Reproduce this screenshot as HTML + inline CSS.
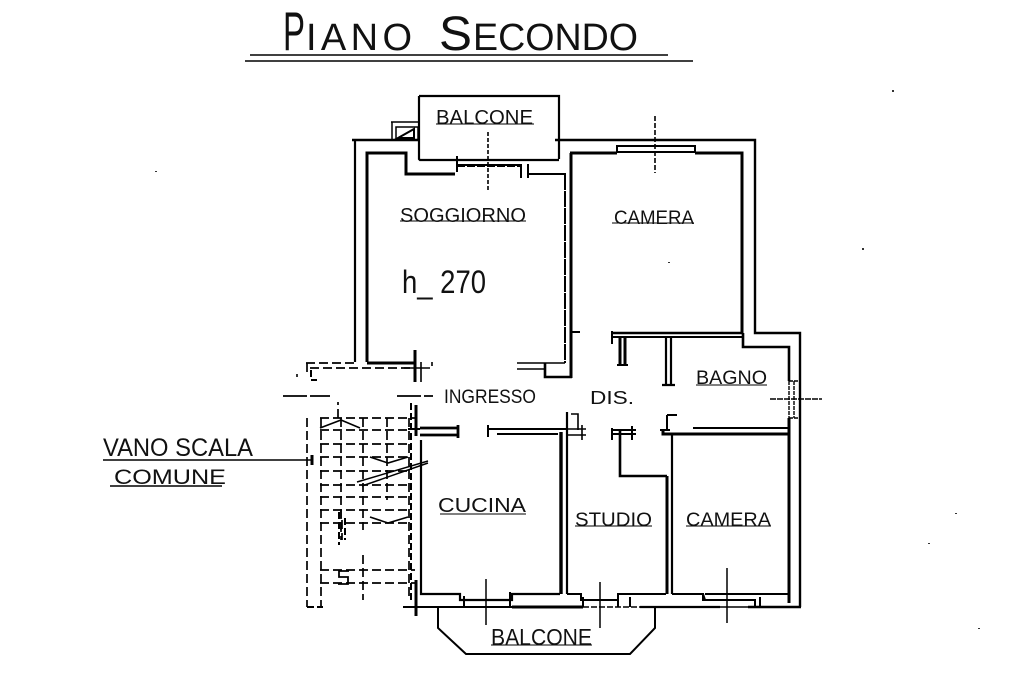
<!DOCTYPE html>
<html><head><meta charset="utf-8"><style>
html,body{margin:0;padding:0;background:#fff;width:1024px;height:683px;overflow:hidden}
svg{display:block}
text{font-family:"Liberation Sans",sans-serif;fill:#111;font-weight:normal}
</style></head><body>
<svg width="1024" height="683" viewBox="0 0 1024 683" xmlns="http://www.w3.org/2000/svg">
<rect width="1024" height="683" fill="#fff"/>
<g fill="none" stroke="#000" stroke-width="2">
<!-- title underline -->
<path d="M250 55H668M245 61H693" stroke-width="1.6"/>
<!-- top balcony -->
<path d="M419 96H559V159M419 96V159L420 160H559" stroke-width="2.2"/>
<path d="M391 122H419M392 122V140M396 127H418V140H396Z" stroke-width="1.5"/>
<path d="M398 138L414 129V138Z" stroke-width="2"/>
<path d="M352 140H419" stroke-width="2.4"/>
<path d="M355 140V362" stroke-width="2.2"/>
<path d="M367 362V153H406V174H455" stroke-width="3"/>
<path d="M457 156V172M457 165H520M521 164V178M528 164V178M527 174H566" stroke-width="2"/>
<path d="M457 166H520" stroke-dasharray="8 2"/>
<path d="M488 132V190" stroke-dasharray="4 2" stroke-width="1.6"/>
<!-- soggiorno right wall -->
<path d="M565 174V363" stroke-width="2" stroke-dasharray="16 1"/>
<path d="M571 153V378" stroke-width="3"/>
<path d="M367 363H416" stroke-width="3"/>
<path d="M415 350V382" stroke-width="3"/>
<path d="M421 362V382M432 362V366M404 368H430" stroke-width="1.6"/>
<path d="M517 363H565M517 369H545" stroke-width="1.6"/>
<path d="M545 363V377H572" stroke-width="2.6"/>
<path d="M571 332H580" stroke-width="2"/>
<!-- camera top -->
<path d="M555 140H755V333H800V607" stroke-width="2.4"/>
<path d="M570 153H617M695 153H742V333" stroke-width="3"/>
<path d="M617 153V146H695V153M617 152H695" stroke-width="2"/>
<path d="M655 116V173" stroke-dasharray="5 2" stroke-width="1.6"/>
<!-- bagno -->
<path d="M612 333H743" stroke-width="2.6"/>
<path d="M613 337H743" stroke-width="2"/>
<path d="M612 331V344" stroke-width="2"/>
<path d="M620 337V365M625 337V365" stroke-width="3"/>
<path d="M617 365H628" stroke-width="2"/>
<path d="M666 337V385M671 337V385M662 385H675" stroke-width="2.2"/>
<path d="M743 333V347H789V381" stroke-width="2.6"/>
<path d="M789 381H800M789 418H800M789 381V418M794 381V418" stroke-width="1.4" stroke-dasharray="4 1"/>
<path d="M770 399H822" stroke-width="1.4" stroke-dasharray="6 1"/>
<path d="M789 418V603" stroke-width="3"/>
<path d="M667 415H677M667 415V430" stroke-width="2"/>
<path d="M693 428H789" stroke-width="2"/>
<path d="M663 429V434H790" stroke-width="3"/>
<path d="M660 430H670" stroke-width="2"/>
<!-- middle corridor -->
<path d="M420 428H457M420 435H457M458 425V438" stroke-width="2.8"/>
<path d="M488 425V437M488 429H566M497 434H558" stroke-width="2"/>
<path d="M561 432V594" stroke-width="3.4"/>
<path d="M567 412V594" stroke-width="2.2"/>
<path d="M571 414H578V430M566 429H586M566 435H586M582 425V440" stroke-width="1.6"/>
<path d="M612 430H636M612 434H636M612 428V440M632 426V440" stroke-width="2"/>
<path d="M620 430V476H667" stroke-width="2.6"/>
<path d="M667 476V594" stroke-width="3"/>
<path d="M672 434V594" stroke-width="2.2"/>
<!-- cucina -->
<path d="M421 440V594H460V600H512V594H560" stroke-width="2.2"/>
<path d="M416 405V436" stroke-width="3"/>
<path d="M416 405V415M408 429H420" stroke-width="2"/>
<path d="M567 594H581V600H618V594H624M618 600V607M624 594H666" stroke-width="2"/>
<path d="M672 594H703V600H755V606M703 594L705 600M705 594H789" stroke-width="2"/>
<path d="M403 607H512" stroke-width="2"/>
<path d="M512 607H583" stroke-width="3"/>
<path d="M583 607H640" stroke-width="1.6" stroke-dasharray="6 2"/>
<path d="M640 607H720" stroke-width="2.2"/>
<path d="M720 607H748" stroke-width="1.6"/>
<path d="M748 607H801" stroke-width="2.6"/>
<path d="M416 580V616" stroke-width="3"/>
<path d="M464 596V607M510 592V606M583 597V607M630 597V607M760 597V606" stroke-width="2"/>
<path d="M486 579V625M600 582V628M727 568V623" stroke-width="1.5"/>
<!-- bottom balcony -->
<path d="M438 607V628L466 654H630L655 628V607" stroke-width="2"/>
<!-- stair dashed -->
<g stroke-width="1.7" stroke-dasharray="9 4">
<path d="M306 363H355M310 368H415M307 363V375"/>
<path d="M283 396H330M397 396H433" stroke-dasharray="24 3"/>
<path d="M307 418V607M321 418V607"/>
<path d="M320 418H416M320 430H410M320 444H410M320 457H410M320 471H410M320 485H410M320 497H410M320 510H410M320 523H410M320 570H415M320 583H415"/>
<path d="M341 418V530M363 418V530M387 418V500M409 418V600M363 555V600"/>
<path d="M338 418V402M341 510V540M342 520V540"/>
</g>
<path d="M320 428L341 420L360 428M370 457L388 463L408 457M370 517L388 523L408 517" stroke-width="1.6"/>
<path d="M357 482L428 461M362 486L428 463" stroke-width="1.5"/>
<path d="M311 370V380H317M307 607H323M339 512V545M345 518V540M411 403V600" stroke-width="2" stroke-dasharray="7 3"/>
<path d="M349 571H339V577H348V584H338" stroke-width="1.8"/>
<!-- scala leader -->
<path d="M103 460H312M110 486H222" stroke-width="1.6"/>
<path d="M312 455V465" stroke-width="3"/>
<!-- text underlines -->
<path d="M436 124H534M400 221H526M612 223H694M440 514H526M575 526H652M686 526H771M491 645H592M696 385H767" stroke-width="1"/>
</g>
<g>
<text x="283" y="50" font-size="55" textLength="22" lengthAdjust="spacingAndGlyphs">P</text>
<text x="306" y="50" font-size="38" textLength="106" lengthAdjust="spacing">IANO</text>
<text x="439" y="50" font-size="48" textLength="33" lengthAdjust="spacingAndGlyphs">S</text>
<text x="473" y="50" font-size="38" textLength="165" lengthAdjust="spacingAndGlyphs">ECONDO</text>
<text x="436" y="124" font-size="20" textLength="97" lengthAdjust="spacingAndGlyphs">BALCONE</text>
<text x="400" y="222" font-size="20" textLength="126" lengthAdjust="spacingAndGlyphs">SOGGIORNO</text>
<text x="614" y="224" font-size="19" textLength="80" lengthAdjust="spacingAndGlyphs">CAMERA</text>
<text x="402" y="293" font-size="32" textLength="84" lengthAdjust="spacingAndGlyphs">h_ 270</text>
<text x="444" y="403" font-size="19" textLength="92" lengthAdjust="spacingAndGlyphs">INGRESSO</text>
<text x="590" y="404" font-size="18" textLength="44" lengthAdjust="spacingAndGlyphs">DIS.</text>
<text x="696" y="384" font-size="19" textLength="71" lengthAdjust="spacingAndGlyphs">BAGNO</text>
<text x="438" y="512" font-size="20" textLength="88" lengthAdjust="spacingAndGlyphs">CUCINA</text>
<text x="575" y="526" font-size="19" textLength="77" lengthAdjust="spacingAndGlyphs">STUDIO</text>
<text x="686" y="526" font-size="19" textLength="85" lengthAdjust="spacingAndGlyphs">CAMERA</text>
<text x="491" y="645" font-size="23" textLength="101" lengthAdjust="spacingAndGlyphs">BALCONE</text>
<text x="103" y="456" font-size="25" textLength="150" lengthAdjust="spacingAndGlyphs">VANO SCALA</text>
<text x="114" y="484" font-size="21" textLength="112" lengthAdjust="spacingAndGlyphs">COMUNE</text>
</g>
<g fill="#333">
<rect x="892" y="90" width="2" height="2"/><rect x="155" y="171" width="2" height="1"/><rect x="862" y="248" width="2" height="2"/><rect x="668" y="262" width="2" height="1"/><rect x="928" y="543" width="2" height="1"/><rect x="955" y="513" width="2" height="1"/><rect x="978" y="628" width="2" height="1"/><rect x="296" y="374" width="2" height="3"/>
</g>
</svg>
</body></html>
